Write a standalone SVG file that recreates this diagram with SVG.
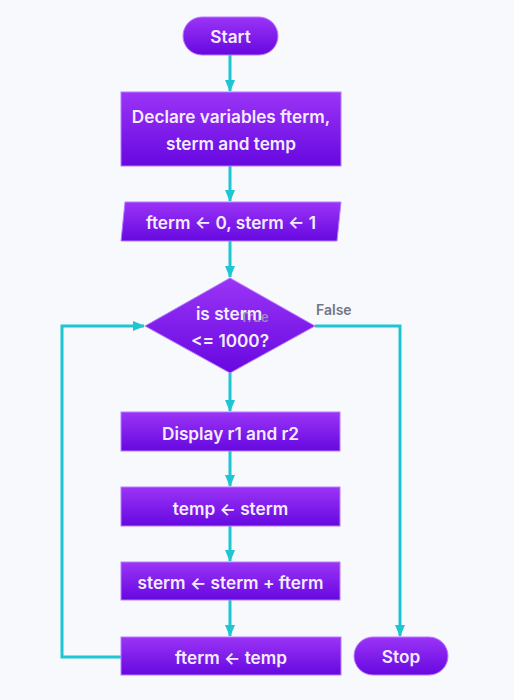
<svg xmlns="http://www.w3.org/2000/svg" width="514" height="700" viewBox="0 0 514 700">
<defs>
<linearGradient id="pg" x1="0" y1="0" x2="0" y2="1">
<stop offset="0" stop-color="#9b34f6"/>
<stop offset="1" stop-color="#6608e0"/>
</linearGradient>
<marker id="ah" markerWidth="12" markerHeight="10" refX="11" refY="5" orient="auto" markerUnits="userSpaceOnUse">
<path d="M0,0 L12,5 L0,10 Z" fill="#1ec6d2"/>
</marker>
<style>
.n{fill:url(#pg);stroke:#b77cff;stroke-width:1}
.t{font-family:Inter,"Open Sans","DejaVu Sans",sans-serif;font-weight:600;font-size:17.2px;fill:#f3ecff;text-anchor:middle;dominant-baseline:central}
.c{fill:none;stroke:#1ec6d2;stroke-width:3}
.lbl{font-family:Inter,"Open Sans","DejaVu Sans",sans-serif;font-weight:600;font-size:14px;fill:#737687;dominant-baseline:central}
</style>
</defs>
<rect width="514" height="700" fill="#f8f9fd"/>
<g id="connectors">
<path class="c" d="M230,55 V91" marker-end="url(#ah)"/>
<path class="c" d="M230,166 V201" marker-end="url(#ah)"/>
<path class="c" d="M230,241 V277" marker-end="url(#ah)"/>
<path class="c" d="M230,373 V411" marker-end="url(#ah)"/>
<path class="c" d="M230,451 V486" marker-end="url(#ah)"/>
<path class="c" d="M230,526 V561" marker-end="url(#ah)"/>
<path class="c" d="M230,600 V636" marker-end="url(#ah)"/>
<path class="c" d="M315,326 H400 V636" marker-end="url(#ah)"/>
<path class="c" d="M121,657 H62 V326 H144" marker-end="url(#ah)"/>
<text class="lbl" x="316" y="309">False</text>
</g>
<g id="start">
<rect class="n" x="183" y="17" width="95" height="38" rx="19"/>
<text class="t" x="230.5" y="36">Start</text>
</g>
<g id="declare">
<rect class="n" x="121" y="92" width="220" height="74"/>
<text class="t" x="231" y="116">Declare variables fterm,</text>
<text class="t" x="231" y="143">sterm and temp</text>
</g>
<g id="init">
<polygon class="n" points="125,202 341,202 337,241 121,241"/>
<text class="t" x="231" y="222">fterm ← 0, sterm ← 1</text>
</g>
<g id="decision">
<polygon class="n" points="230,278 315,326 230,373 145,326"/>
<text class="lbl" x="240" y="317" style="font-size:13px;fill:#9a8fb8">True</text>
<text class="t" x="229" y="313">is sterm</text>
<text class="t" x="230" y="340">&lt;= 1000?</text>
</g>
<g id="display">
<rect class="n" x="121" y="412" width="219" height="39"/>
<text class="t" x="230.5" y="433">Display r1 and r2</text>
</g>
<g id="temp">
<rect class="n" x="121" y="487" width="219" height="39"/>
<text class="t" x="230.5" y="508">temp ← sterm</text>
</g>
<g id="sterm">
<rect class="n" x="121" y="562" width="219" height="38"/>
<text class="t" x="230.5" y="582">sterm ← sterm + fterm</text>
</g>
<g id="fterm">
<rect class="n" x="121" y="637" width="220" height="38"/>
<text class="t" x="231" y="657">fterm ← temp</text>
</g>
<g id="stop">
<rect class="n" x="354" y="637" width="94" height="38" rx="19"/>
<text class="t" x="401" y="656">Stop</text>
</g>
</svg>
